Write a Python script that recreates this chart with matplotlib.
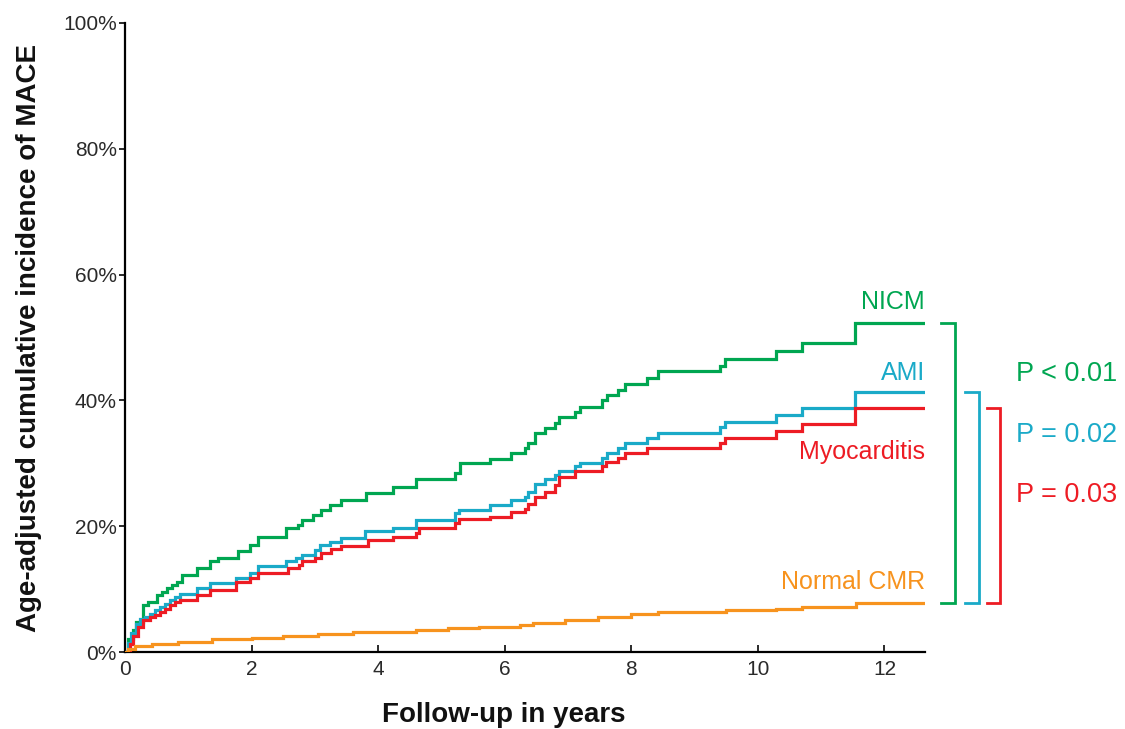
import matplotlib
matplotlib.use("Agg")
import matplotlib.pyplot as plt
import numpy as np

plt.rcParams['font.family'] = ['Liberation Sans', 'DejaVu Sans']

x_end = 12.64

nicm_t = [0, 0.05, 0.13, 0.17, 0.28, 0.36, 0.5, 0.58, 0.66, 0.74, 0.82, 0.9, 1.13, 1.34, 1.47, 1.79, 1.97, 2.1,
          2.55, 2.73, 2.79, 2.97, 3.1, 3.24, 3.42, 3.8, 4.24, 4.6, 5.21, 5.29, 5.77, 6.1, 6.32, 6.36, 6.48, 6.64,
          6.79, 6.85, 7.11, 7.19, 7.53, 7.61, 7.79, 7.9, 8.24, 8.42, 9.4, 9.48, 10.29, 10.69, 11.53]
nicm_v = [0, 2, 3.5, 4.8, 7.5, 8, 9, 9.5, 10.2, 10.7, 11.2, 12.3, 13.3, 14.4, 14.9, 16, 17, 18.3,
          19.7, 20.2, 21, 21.8, 22.6, 23.4, 24.2, 25.2, 26.3, 27.5, 28.5, 30.0, 30.7, 31.6, 32.4, 33.2, 34.8, 35.6,
          36.4, 37.4, 38.2, 39, 40.1, 40.9, 41.7, 42.6, 43.5, 44.6, 45.5, 46.6, 47.9, 49.2, 52.3]

ami_t = [0, 0.05, 0.1, 0.17, 0.24, 0.32, 0.4, 0.47, 0.55, 0.63, 0.71, 0.79, 0.87, 1.13, 1.34, 1.76, 1.97, 2.1,
         2.55, 2.7, 2.79, 3.0, 3.08, 3.24, 3.42, 3.79, 4.24, 4.6, 5.21, 5.27, 5.77, 6.1, 6.32, 6.36, 6.48, 6.64,
         6.79, 6.85, 7.11, 7.19, 7.53, 7.61, 7.79, 7.9, 8.24, 8.42, 9.4, 9.48, 10.29, 10.69, 11.53]
ami_v = [0, 1.5, 3, 4.5, 5.2, 5.6, 6, 6.7, 7.2, 7.7, 8.3, 8.8, 9.3, 10.2, 10.9, 11.7, 12.5, 13.6,
         14.4, 14.9, 15.4, 16.2, 17, 17.5, 18.1, 19.2, 19.7, 21, 22.1, 22.6, 23.4, 24.2, 24.7, 25.5, 26.7, 27.5,
         28.2, 28.7, 29.5, 30, 30.8, 31.6, 32.4, 33.2, 34, 34.8, 35.7, 36.5, 37.7, 38.8, 41.4]

myo_t = [0, 0.08, 0.13, 0.2, 0.28, 0.4, 0.47, 0.55, 0.63, 0.71, 0.79, 0.87, 1.13, 1.34, 1.76, 1.97, 2.1,
         2.57, 2.75, 2.8, 3.0, 3.1, 3.25, 3.42, 3.84, 4.24, 4.6, 4.65, 5.21, 5.27, 5.77, 6.1, 6.32, 6.36, 6.48,
         6.64, 6.79, 6.85, 7.11, 7.53, 7.6, 7.79, 7.9, 8.24, 9.4, 9.48, 10.29, 10.69, 11.53]
myo_v = [0, 1.3, 2.5, 4, 5.1, 5.5, 5.9, 6.4, 6.9, 7.5, 8, 8.3, 9, 9.9, 11.2, 11.7, 12.5,
         13.3, 13.9, 14.4, 14.9, 15.7, 16.3, 16.8, 17.8, 18.3, 18.9, 19.7, 20.5, 21.1, 21.5, 22.3, 22.8, 23.6, 24.7,
         25.5, 26.5, 27.9, 28.7, 29.5, 30.2, 30.8, 31.6, 32.4, 33.2, 34.1, 35.1, 36.3, 38.8]

norm_t = [0, 0.05, 0.16, 0.42, 0.84, 1.37, 2.0, 2.5, 3.05, 3.6, 4.6, 5.1, 5.6, 6.24, 6.45, 6.95, 7.48, 8.0,
          8.42, 9.5, 10.29, 10.69, 11.55]
norm_v = [0, 0.5, 1.0, 1.3, 1.6, 2.0, 2.2, 2.5, 2.9, 3.2, 3.5, 3.8, 4.0, 4.3, 4.6, 5.1, 5.5, 6.1,
          6.4, 6.7, 6.9, 7.2, 7.8]

series = [
    ("NICM", nicm_t, nicm_v, "#00a651"),
    ("AMI", ami_t, ami_v, "#1aaac8"),
    ("Myocarditis", myo_t, myo_v, "#ed1c24"),
    ("Normal CMR", norm_t, norm_v, "#f7931e"),
]
label_y = {"NICM": 55.6, "AMI": 44.4, "Myocarditis": 31.8, "Normal CMR": 11.1}

p_texts = ["P < 0.01", "P = 0.02", "P = 0.03"]
p_y = [44.2, 34.5, 25.0]

fig = plt.figure(figsize=(11.25, 7.29), dpi=100)
ax = fig.add_axes([125/1125, 1-652/729, 800/1125, 629/729])

for name, t, v, c in series:
    tt = list(t) + [x_end]
    vv = list(v) + [v[-1]]
    ax.step(tt, vv, where='post', color=c, lw=2.3, solid_joinstyle='miter', zorder=3)
    ax.text(x_end, label_y[name], name, color=c, fontsize=18, ha='right', va='center')

ax.set_xlim(0, x_end)
ax.set_ylim(0, 100)
ax.set_xticks([0, 2, 4, 6, 8, 10, 12])
ax.set_yticks([0, 20, 40, 60, 80, 100])
ax.set_yticklabels(["0%", "20%", "40%", "60%", "80%", "100%"])
ax.spines['top'].set_visible(False)
ax.spines['right'].set_visible(False)
for s in ['left', 'bottom']:
    ax.spines[s].set_linewidth(1.6)
ax.tick_params(axis='y', direction='out', length=4, width=1.4, labelsize=15, colors='#2a2a2a', pad=2)
ax.tick_params(axis='x', direction='in', length=5, width=1.4, labelsize=15, colors='#2a2a2a', pad=6)
ax.set_xlabel("Follow-up in years", fontsize=20, fontweight='bold', color='#111111')
ax.set_ylabel("Age-adjusted cumulative incidence of MACE", fontsize=20, fontweight='bold', color='#111111')
ax.xaxis.set_label_coords(0.474, -0.079)
ax.yaxis.set_label_coords(-0.104, 0.50)

# brackets
bottom_v = norm_v[-1]
brackets = [(nicm_v[-1], "#00a651", 12.9, 13.11), (ami_v[-1], "#1aaac8", 13.27, 13.49),
            (myo_v[-1], "#ed1c24", 13.62, 13.82)]
for top_v, c, x0, x1 in brackets:
    ax.plot([x0, x1, x1, x0], [top_v, top_v, bottom_v, bottom_v], color=c, lw=2.0,
            clip_on=False, solid_joinstyle='miter')

for txt, y, (_, c, _, _) in zip(p_texts, p_y, brackets):
    ax.text(14.07, y, txt, color=c, fontsize=19.5, ha='left', va='center', clip_on=False)

fig.savefig("out.png", dpi=100)
